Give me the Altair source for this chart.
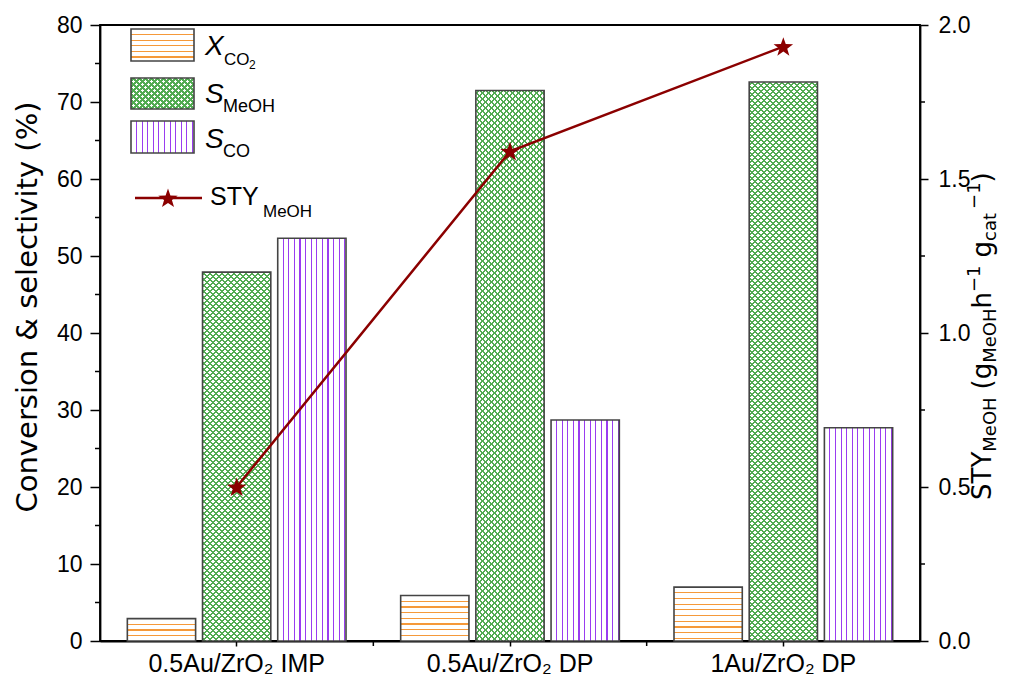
import math
import altair as alt
import pandas as pd

# ---------------- data ----------------
categories = ["0.5Au/ZrO\u2082 IMP", "0.5Au/ZrO\u2082 DP", "1Au/ZrO\u2082 DP"]
series_keys = ["XCO2", "SMeOH", "SCO"]
x_co2 = [2.9, 5.9, 7.0]
s_meoh = [47.9, 71.5, 72.6]
s_co = [52.3, 28.7, 27.7]
sty_meoh = [0.50, 1.59, 1.93]
left_ticks = [0, 10, 20, 30, 40, 50, 60, 70, 80]
left_minor = [5, 15, 25, 35, 45, 55, 65, 75]
right_ticks = [0.0, 0.5, 1.0, 1.5, 2.0]
right_minor = [0.25, 0.75, 1.25, 1.75]

# ---------------- layout / style ----------------
W, H = 820, 616
Y_MAX = 80
PX = H / Y_MAX
X_PAD_IN, X_PAD_OUT = 0.2, 0.1
OFF_PAD = 0.092
STEP = W / (len(categories) - X_PAD_IN + 2 * X_PAD_OUT)
BAND = STEP * (1 - X_PAD_IN)
SUB_STEP = BAND / (len(series_keys) - OFF_PAD)
BAR_W = SUB_STEP * (1 - OFF_PAD)

FONT = "Liberation Sans, Arial, Helvetica, sans-serif"
TFONT = "DejaVu Sans, Liberation Sans, sans-serif"
CLEAR = "rgba(255,255,255,0)"
ORANGE = "#f5993a"
GREEN = "#52ab52"
PURPLE = "#9a3cf0"
DARKRED = "#8b0000"
EDGE = "#444444"

# five-pointed star symbol path (unit box)
_pts = []
for k in range(10):
    r = 1.0 if k % 2 == 0 else 0.40
    a = -math.pi / 2 + k * math.pi / 5
    _pts.append(f"{r * math.cos(a):.4f},{r * math.sin(a) + 0.08:.4f}")
STAR = "M" + " L".join(_pts) + " Z"

dummy = pd.DataFrame({"d": [0]})


def stops_for(positions, half, color, bg=CLEAR):
    stops = [{"offset": 0, "color": bg}]
    for p in sorted(positions):
        lo, hi = max(0.0, p - half), min(1.0, p + half)
        if hi <= 0 or lo >= 1:
            continue
        lo, hi = round(lo, 6), round(hi, 6)
        stops += [{"offset": lo, "color": bg}, {"offset": lo, "color": color},
                  {"offset": hi, "color": color}, {"offset": hi, "color": bg}]
    stops.append({"offset": 1, "color": bg})
    return stops


def hgrad(h, spacing, lw, color):
    pos = []
    y = spacing
    while y < h:
        pos.append(y / h)
        y += spacing
    return {"gradient": "linear", "x1": 0, "y1": 0, "x2": 0, "y2": 1,
            "stops": stops_for(pos, lw / 2 / h, color)}


def vgrad(w, spacing, lw, color, first):
    pos = []
    x = first
    while x < w:
        pos.append(x / w)
        x += spacing
    return {"gradient": "linear", "x1": 0, "y1": 0, "x2": 1, "y2": 0,
            "stops": stops_for(pos, lw / 2 / w, color)}


def dgrad(w, h, spacing, band_xy, color, direction):
    """45-degree stripes; band_xy = stripe width measured along x+y."""
    L = w + h
    k = L / (w * w + h * h)
    if direction > 0:
        x1, y1, x2, y2 = 0, 0, k * w, k * h
    else:
        x1, y1, x2, y2 = 0, 1, k * w, 1 - k * h
    pos = [(spacing * j + spacing / 2) / L for j in range(int(L / spacing) + 1)]
    half = band_xy / 2 / L
    return {"gradient": "linear", "x1": round(x1, 6), "y1": round(y1, 6),
            "x2": round(x2, 6), "y2": round(y2, 6), "stops": stops_for(pos, half, color)}


rows = []
for i, c in enumerate(categories):
    rows.append({"cat": c, "ser": "XCO2", "val": x_co2[i]})
    rows.append({"cat": c, "ser": "SMeOH", "val": s_meoh[i]})
    rows.append({"cat": c, "ser": "SCO", "val": s_co[i]})
bars_df = pd.DataFrame(rows)
line_df = pd.DataFrame({"cat": categories, "sty": sty_meoh})

x_scale = alt.Scale(domain=categories, paddingInner=X_PAD_IN, paddingOuter=X_PAD_OUT)
off_scale = alt.Scale(domain=series_keys, paddingInner=OFF_PAD, paddingOuter=0)
yl_scale = alt.Scale(domain=[0, 80], nice=False, zero=True)
yr_scale = alt.Scale(domain=[0, 2], nice=False, zero=True)

x_axis = alt.Axis(title=None, labelFontSize=25, labelFont=FONT, labelColor="black",
                  labelAngle=0, labelLimit=400, tickSize=5, tickWidth=1.5, tickColor="black",
                  domainColor="black", domainWidth=1.8, labelPadding=5)
yl_axis = alt.Axis(title=None, values=left_ticks, format="d", labelFontSize=23,
                   labelFont=FONT, labelColor="black", tickSize=10, tickWidth=1.5,
                   tickColor="black", domainColor="black", domainWidth=1.8,
                   labelPadding=8, orient="left")
yr_axis = alt.Axis(title=None, values=right_ticks, format=".1f", labelFontSize=23,
                   labelFont=FONT, labelColor="black", tickSize=8, tickWidth=1.5,
                   tickColor="black", domainColor="black", domainWidth=1.8,
                   labelPadding=10, orient="right")

X_ENC = alt.X("cat:N", scale=x_scale, axis=x_axis)


def bar_chart(filter_expr=None):
    ch = alt.Chart(bars_df)
    if filter_expr is not None:
        ch = ch.transform_filter(filter_expr)
    return ch, dict(
        x=X_ENC,
        xOffset=alt.XOffset("ser:N", scale=off_scale),
        y=alt.Y("val:Q", scale=yl_scale, axis=yl_axis),
    )


left_layers = []
ch, enc = bar_chart(None)
left_layers.append(ch.mark_bar(fill="white").encode(**enc))

ch, enc = bar_chart("datum.ser == 'SCO'")
left_layers.append(ch.mark_bar(fill=vgrad(BAR_W, 5.6, 1.1, PURPLE, 5.5)).encode(**enc))

for i, c in enumerate(categories):
    hx = x_co2[i] * PX
    ch, enc = bar_chart(f"datum.ser == 'XCO2' && datum.cat == '{c}'")
    left_layers.append(ch.mark_bar(fill=hgrad(hx, 5.7, 1.2, ORANGE)).encode(**enc))
    hm = s_meoh[i] * PX
    for d in (1, -1):
        ch, enc = bar_chart(f"datum.ser == 'SMeOH' && datum.cat == '{c}'")
        left_layers.append(ch.mark_bar(fill=dgrad(BAR_W, hm, 6.0, 2.05, GREEN, d)).encode(**enc))

ch, enc = bar_chart(None)
left_layers.append(ch.mark_bar(fillOpacity=0, stroke=EDGE, strokeWidth=1.6).encode(**enc))

left_layers.append(
    alt.Chart(pd.DataFrame({"v": left_minor})).mark_rule(color="black", strokeWidth=1.5)
    .encode(y=alt.Y("v:Q", scale=yl_scale, axis=yl_axis), x=alt.value(-5), x2=alt.value(0))
)
left_layers.append(
    alt.Chart(pd.DataFrame({"cat": categories[:-1]})).mark_rule(color="black", strokeWidth=1.5)
    .encode(x=X_ENC, xOffset=alt.value(BAND / 2 + STEP / 2),
            y=alt.value(H), y2=alt.value(H + 5))
)
left_group = alt.layer(*left_layers)

right_layers = [
    alt.Chart(line_df).mark_line(color=DARKRED, strokeWidth=2.5)
    .encode(x=X_ENC, y=alt.Y("sty:Q", scale=yr_scale, axis=yr_axis)),
    alt.Chart(line_df).mark_point(shape=STAR, filled=True, size=420, color=DARKRED, opacity=1)
    .encode(x=X_ENC, y=alt.Y("sty:Q", scale=yr_scale, axis=yr_axis)),
    alt.Chart(pd.DataFrame({"v": right_minor})).mark_rule(color="black", strokeWidth=1.5)
    .encode(y=alt.Y("v:Q", scale=yr_scale, axis=yr_axis), x=alt.value(W), x2=alt.value(W + 5)),
]
right_group = alt.layer(*right_layers)


def txt(s, x, y, size, font=FONT, angle=None, italic=False, align="left"):
    kw = dict(text=s, fontSize=size, font=font, align=align, baseline="alphabetic", color="black")
    if angle is not None:
        kw["angle"] = angle
    if italic:
        kw["fontStyle"] = "italic"
    return alt.Chart(dummy).mark_text(**kw).encode(x=alt.value(x), y=alt.value(y))


def rect(x, x2, y, y2, **kw):
    return alt.Chart(dummy).mark_rect(**kw).encode(
        x=alt.value(x), x2=alt.value(x2), y=alt.value(y), y2=alt.value(y2))


deco = []
LX0, LX1 = 31, 94
boxes = [(4, 36, "X"), (53, 84, "M"), (96, 128, "C")]
for y0, y1, kind in boxes:
    bw, bh = LX1 - LX0, y1 - y0
    deco.append(rect(LX0, LX1, y0, y1, fill="white"))
    if kind == "X":
        deco.append(rect(LX0, LX1, y0, y1, fill=hgrad(bh, 5.6, 1.2, ORANGE)))
    elif kind == "M":
        for d in (1, -1):
            deco.append(rect(LX0, LX1, y0, y1, fill=dgrad(bw, bh, 6.0, 2.05, GREEN, d)))
    else:
        deco.append(rect(LX0, LX1, y0, y1, fill=vgrad(bw, 5.6, 1.1, PURPLE, 5.5)))
    deco.append(rect(LX0, LX1, y0, y1, fillOpacity=0, stroke=EDGE, strokeWidth=1.6))

deco.append(alt.Chart(dummy).mark_rule(color=DARKRED, strokeWidth=2.5)
            .encode(x=alt.value(35), x2=alt.value(102), y=alt.value(173)))
deco.append(alt.Chart(dummy).mark_point(shape=STAR, filled=True, size=420, color=DARKRED, opacity=1)
            .encode(x=alt.value(68), y=alt.value(173)))

deco += [
    txt("X", 105, 30, 28, italic=True),
    txt("CO", 124, 40, 17),
    txt("2", 149, 44, 12),
    txt("S", 105, 78, 28, italic=True),
    txt("MeOH", 123, 87, 18),
    txt("S", 105, 123, 28, italic=True),
    txt("CO", 123, 132, 18),
    txt("STY", 110, 180, 25),
    txt("MeOH", 163, 192, 17),
]

deco.append(txt("Conversion & selectivity (%)", -63, 282, 29, font=TFONT, angle=270, align="center"))

DV = {"S": .635, "T": .611, "Y": .611, "M": .863, "e": .615, "O": .787, "H": .752, " ": .318,
      "(": .390, ")": .390, "g": .635, "h": .634, "\u2212": .838, "1": .636, "c": .550,
      "a": .613, "t": .392}
MAIN, SUBS = 26, 18
pieces = [("STY", "m"), ("MeOH", "b"), ("_", 8), ("(g", "m"), ("MeOH", "b"), ("h", "m"),
          ("\u22121", "p"), ("_", 8), ("g", "m"), ("cat", "b"), ("_", 4), ("\u22121", "p"), (")", "m")]
BASE_X = 891
ypos = 475
for s, kind in pieces:
    if s == "_":
        ypos -= kind
        continue
    size = MAIN if kind == "m" else SUBS
    dx = 0 if kind == "m" else (5 if kind == "b" else -11)
    deco.append(txt(s, BASE_X + dx, ypos, size, font=TFONT, angle=270))
    ypos -= sum(DV.get(ch, 0.6) for ch in s) * size

chart = (
    alt.layer(left_group, right_group, *deco)
    .resolve_scale(y="independent")
    .properties(width=W, height=H,
                padding={"left": 92, "top": 17, "right": 82, "bottom": 37},
                autosize=alt.AutoSizeParams(type="none"))
    .configure_view(stroke="black", strokeWidth=1.8)
    .configure_axis(grid=False)
)

chart.save("out.html", embed_options={"renderer": "svg", "actions": False})
